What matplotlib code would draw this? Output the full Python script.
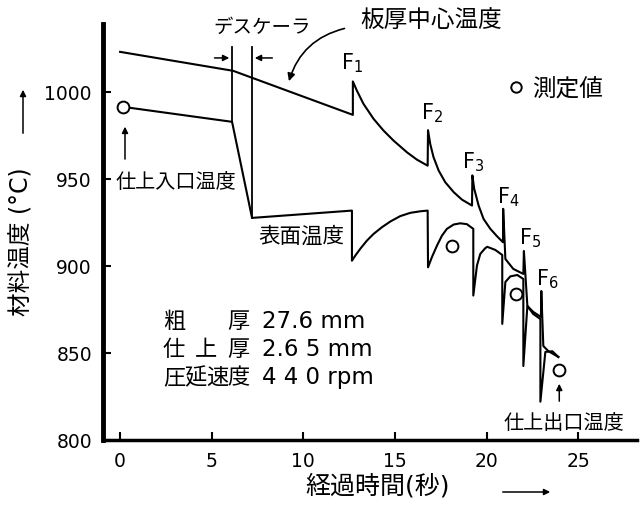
import numpy as np
import matplotlib
matplotlib.use("Agg")
import matplotlib.pyplot as plt

plt.rcParams['font.family'] = ['DejaVu Sans', 'Noto Sans CJK JP']

# 板厚中心温度 (time s, temp C)
center_t = [0.0, 6.17, 12.70, 12.70, 12.92, 13.28, 13.83, 14.37, 14.92, 15.65, 16.19, 16.78,
            16.80, 16.92, 17.10, 17.38, 17.74, 18.20, 18.65, 19.20,
            19.22, 19.32, 19.56, 19.83, 20.20, 20.56, 20.89,
            20.90, 21.02, 21.45, 22.00,
            22.03, 22.22, 22.54, 22.96,
            22.98, 23.09, 23.36, 23.91]
center_T = [1023.0, 1012.1, 986.8, 1006.0, 1000.7, 993.1, 984.5, 977.8, 972.0, 965.3, 961.1, 957.6,
            978.0, 970.1, 962.5, 954.8, 948.1, 942.4, 938.1, 934.7,
            952.0, 944.3, 934.7, 927.0, 921.3, 917.1, 913.6,
            932.8, 904.0, 898.3, 895.4,
            908.6, 877.0, 873.6, 870.7,
            885.6, 854.0, 851.1, 847.7]

# 表面温度
surf_t = [0.16, 6.11, 7.20, 12.65,
          12.65, 12.83, 13.10, 13.47, 13.83, 14.28, 14.74, 15.28, 15.83, 16.38, 16.78,
          16.80, 17.01, 17.29, 17.56, 17.83, 18.20, 18.56, 18.92, 19.27,
          19.27, 19.47, 19.65, 19.92, 20.03, 20.47, 20.85,
          20.85, 21.02, 21.29, 21.67, 22.00,
          22.00, 22.22, 22.54, 22.93,
          22.93, 23.20, 23.58, 23.91]
surf_T = [991.4, 982.8, 927.6, 931.8,
          903.0, 905.9, 909.8, 914.6, 918.4, 922.2, 925.5, 928.6, 930.5, 931.4, 931.8,
          899.2, 905.0, 911.7, 917.4, 921.3, 923.8, 924.5, 924.0, 921.3,
          883.0, 900.2, 906.9, 910.2, 911.0, 909.2, 906.3,
          866.7, 890.8, 894.0, 894.8, 892.5,
          842.5, 877.0, 872.4, 869.5,
          822.0, 850.6, 851.0, 847.7]

# 測定値
meas_t = [0.16, 18.12, 21.62, 23.96]
meas_T = [991.4, 911.5, 883.9, 840.2]

stands = ['1', '2', '3', '4', '5', '6']
stand_t = [12.66, 17.03, 19.27, 21.18, 22.38, 23.31]
stand_T = [1017.2, 988.5, 960.3, 940.2, 916.7, 893.1]

descaler_t = [6.11, 7.20]
descaler_bottom = [982.8, 927.6]

param_labels = ['粗厚', '仕上厚', '圧延速度']
param_values = ['27.6 mm', '2.6 5 mm', '4 4 0 rpm']
param_T = [868.4, 852.3, 836.2]

xticks = [0, 5, 10, 15, 20, 25]
yticks = [800, 850, 900, 950, 1000]

W, H = 642, 506
fig = plt.figure(figsize=(W / 100, H / 100), dpi=100)
ax = fig.add_axes([103 / W, 1 - 441 / H, (637 - 103) / W, (441 - 25) / H])
ax.set_xlim(-0.93, 28.2)
ax.set_ylim(800, 1039)

lw = 1.5
ax.plot(center_t, center_T, color='black', lw=lw, solid_joinstyle='round')
ax.plot(surf_t, surf_T, color='black', lw=lw, solid_joinstyle='round')
ax.plot(meas_t, meas_T, 'o', ms=8.5, mfc='white', mec='black', mew=1.4)

# descaler
for t, b in zip(descaler_t, descaler_bottom):
    ax.plot([t, t], [1025.5, b], color='black', lw=1.3)
ax.annotate('', xy=(descaler_t[0], 1019.5), xytext=(5.0, 1019.5),
            arrowprops=dict(arrowstyle='-|>', color='black', lw=1.1, mutation_scale=9))
ax.annotate('', xy=(descaler_t[1], 1019.5), xytext=(8.46, 1019.5),
            arrowprops=dict(arrowstyle='-|>', color='black', lw=1.1, mutation_scale=9))
ax.text(7.75, 1037.4, 'デスケーラ', fontsize=14, ha='center', va='center')

ax.text(16.98, 1042, '板厚中心温度', fontsize=17, ha='center', va='center')
ax.annotate('', xy=(9.17, 1004.6), xytext=(12.39, 1036.8),
            arrowprops=dict(arrowstyle='-|>', color='black', lw=1.2, mutation_scale=11,
                            connectionstyle='arc3,rad=0.3'))

for s, t, T in zip(stands, stand_t, stand_T):
    ax.text(t, T, r'$\mathregular{F_{%s}}$' % s, fontsize=15, ha='center', va='center')

ax.plot([21.62], [1002.9], 'o', ms=7.5, mfc='white', mec='black', mew=1.4)
ax.text(22.49, 1001.7, '測定値', fontsize=17, ha='left', va='center')

ax.text(-0.27, 948.3, '仕上入口温度', fontsize=14.5, ha='left', va='center')
ax.annotate('', xy=(0.27, 981.6), xytext=(0.27, 959.8),
            arrowprops=dict(arrowstyle='-|>', color='black', lw=1.1, mutation_scale=9))

ax.text(7.53, 917.2, '表面温度', fontsize=15.5, ha='left', va='center')

ax.text(20.9, 809.8, '仕上出口温度', fontsize=14.5, ha='left', va='center')
ax.annotate('', xy=(23.96, 833.9), xytext=(23.96, 820.7),
            arrowprops=dict(arrowstyle='-|>', color='black', lw=1.1, mutation_scale=9))

# parameters block, characters spread over four columns
c0, c1 = (174 - 120) / 18.32, (238 - 120) / 18.32
for lab, val, T in zip(param_labels, param_values, param_T):
    n = len(lab)
    for i, ch in enumerate(lab):
        ax.text(c0 + (c1 - c0) * i / (n - 1), T, ch, fontsize=16, ha='center', va='center')
    ax.text(7.75, T, val, fontsize=16.5, ha='left', va='center')

ax.spines['top'].set_visible(False)
ax.spines['right'].set_visible(False)
ax.spines['left'].set_linewidth(3.5)
ax.spines['bottom'].set_linewidth(2.5)
ax.set_xticks(xticks)
ax.set_yticks(yticks)
ax.tick_params(direction='in', length=6, width=1.5, labelsize=13.5, pad=8)

fig.text(22 / W, 1 - 242 / H, '材料温度 (°C)', rotation=90, fontsize=17,
         ha='center', va='center')
ax.annotate('', xy=(23 / W, 1 - 88 / H), xytext=(23 / W, 1 - 137 / H),
            xycoords='figure fraction', textcoords='figure fraction',
            arrowprops=dict(arrowstyle='-|>', color='black', lw=1.1, mutation_scale=9))
fig.text(378 / W, 1 - 486 / H, '経過時間(秒)', fontsize=18, ha='center', va='center')
ax.annotate('', xy=(553 / W, 1 - 493 / H), xytext=(500 / W, 1 - 493 / H),
            xycoords='figure fraction', textcoords='figure fraction',
            arrowprops=dict(arrowstyle='-|>', color='black', lw=1.1, mutation_scale=9))

fig.savefig('out.png', dpi=100, facecolor='white')
